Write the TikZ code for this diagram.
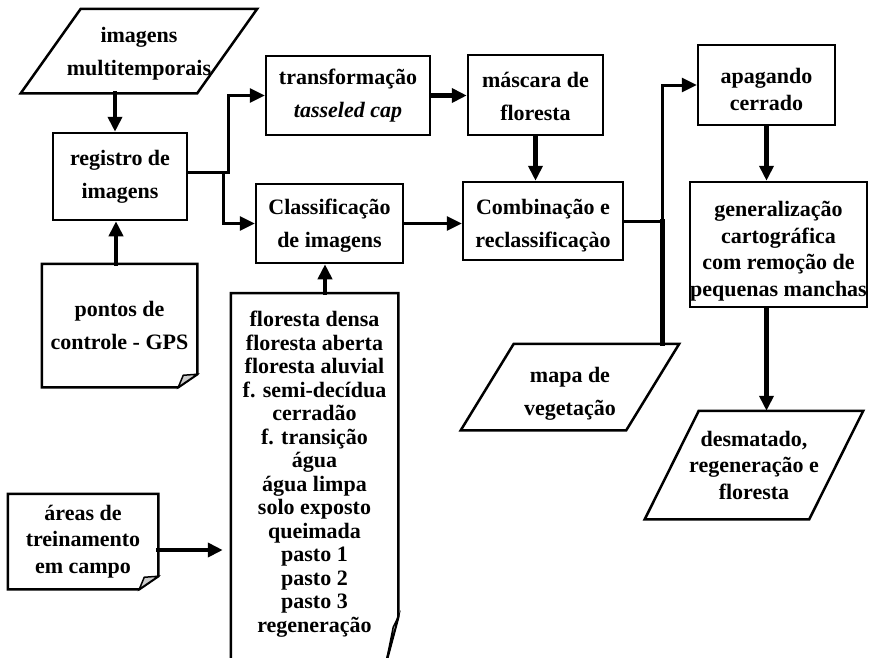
\documentclass[tikz,border=0pt]{standalone}
\usepackage{fontspec}
\setmainfont{Liberation Serif}
\usetikzlibrary{arrows.meta}

\begin{document}
\begin{tikzpicture}[
	x=1pt,y=-1pt,
	>={Triangle[length=15pt,width=14pt]},
	line join=miter,
	box/.style={draw,line width=2.5pt,align=center,inner sep=0pt,font=\fontsize{22}{33}\selectfont\bfseries},
	sheet/.style={box,draw=none},
	tight/.style={font=\fontsize{22}{26.5}\selectfont\bfseries},
	border/.style={line width=2.5pt},
	fold/.style={line width=1.5pt,fill=gray!40},
	flow/.style={line width=4.5pt,line cap=rect},
	link/.style={line width=3pt,line cap=rect}
	]
	\useasboundingbox (0,0) rectangle (869,657);
	\clip (0,0) rectangle (869,657);

	% inputs
	\node[sheet,minimum width=174,minimum height=82] (imgs) at (139,51) {\rule{0pt}{21pt}imagens\\multitemporais};
	\node[sheet,minimum width=153,minimum height=121] (pontos) at (119.5,325.5) {pontos de\\controle - GPS};
	\node[sheet,tight,minimum width=148,minimum height=93] (areas) at (83,541.5) {áreas de\\treinamento\\em campo};
	\node[sheet,anchor=north,minimum width=165,inner ysep=17pt,font=\fontsize{22}{23.5}\selectfont\bfseries] (classes) at (314.5,293)
		{floresta densa\\floresta aberta\\floresta aluvial\\f. semi-decídua\\cerradão\\f. transição\\água\\água limpa\\solo exposto\\queimada\\pasto 1\\pasto 2\\pasto 3\\regeneração};
	\node[sheet,minimum width=163,minimum height=84] (mapa) at (570,387) {\rule{0pt}{29pt}mapa de\\vegetação};

	% processing
	\node[box,minimum width=134,minimum height=87] (registro) at (120,176.5) {registro de\\imagens};
	\node[box,minimum width=164,minimum height=79] (transf) at (348,95.5) {transformação\\\textit{tasseled cap}};
	\node[box,minimum width=135,minimum height=80] (masc) at (535.5,95) {\rule{0pt}{19pt}máscara de\\floresta};
	\node[box,minimum width=147,minimum height=79] (classif) at (329.5,223.5) {\rule{0pt}{19pt}Classificação\\de imagens};
	\node[box,minimum width=160,minimum height=78] (comb) at (543,221) {\rule{0pt}{24pt}Combinação e\\reclassificaçào};
	\node[box,tight,minimum width=137,minimum height=80] (apag) at (766.5,85) {\rule{0pt}{24pt}apagando\\cerrado};
	\node[box,tight,minimum width=177,minimum height=125] (gen) at (778.5,244.5) {\rule{0pt}{29pt}generalização\\cartográfica\\com remoção de\\pequenas manchas};
	\node[sheet,tight,minimum width=162,minimum height=106] (desm) at (754,465) {desmatado,\\regeneração e\\floresta};

	% slanted data shapes
	\foreach \n/\s in {imgs/30,mapa/26.5,desm/27}{
		\draw[border] ([xshift=\s pt]\n.north west) -- ([xshift=\s pt]\n.north east) -- ([xshift=-\s pt]\n.south east) -- ([xshift=-\s pt]\n.south west) -- cycle;
	}

	% folded sheets
	\foreach \n in {pontos,areas}{
		\draw[border] (\n.south west) -- (\n.north west) -- (\n.north east) -- ([yshift=13pt]\n.south east) -- ([xshift=-19pt]\n.south east) -- cycle;
		\filldraw[fold] ([yshift=13pt]\n.south east) -- ([xshift=-19pt]\n.south east) -- ([xshift=-14pt,yshift=12pt]\n.south east) -- cycle;
	}
	\draw[border] (classes.north west |- 0,680) -- (classes.north west) -- (classes.north east) -- ++(0,324) coordinate (dog) -- ++(-12,45);
	\filldraw[fold] (dog) -- ++(-12,45) -- ++(7,-35) -- cycle;

	\coordinate (split) at ([xshift=38pt]comb.east);

	\begin{scope}[->]
		\draw[flow] (imgs.south -| 115,0) -- (registro.north -| 115,0);
		\draw[flow] (pontos.north -| 116,0) -- (registro.south -| 116,0);
		\draw[link] ([yshift=4pt]registro.east) -- ++(40,0) |- (transf.west);
		\draw[link] ([yshift=4pt]registro.east) -- ++(35,0) |- (classif.west);
		\draw[flow] (transf.east) -- (transf.east -| masc.west);
		\draw[flow] (masc.south) -- (masc.south |- comb.north);
		\draw[link] (classif.east) -- (classif.east -| comb.west);
		\draw[flow] (classes.north -| 325,0) -- (classif.south -| 325,0);
		\draw[flow,shorten >=8pt] ([yshift=-8.5pt]areas.east) -- ([yshift=-8.5pt]areas.east -| classes.west);
		\draw[link] (split) |- (apag.west);
		\draw[flow] (apag.south) -- (apag.south |- gen.north);
		\draw[flow] (gen.south -| apag.south) -- (desm.north -| apag.south);
	\end{scope}
	\draw[link] (comb.east) -- (split);
	\draw[flow] (mapa.north -| split) -- (split);
\end{tikzpicture}
\end{document}
